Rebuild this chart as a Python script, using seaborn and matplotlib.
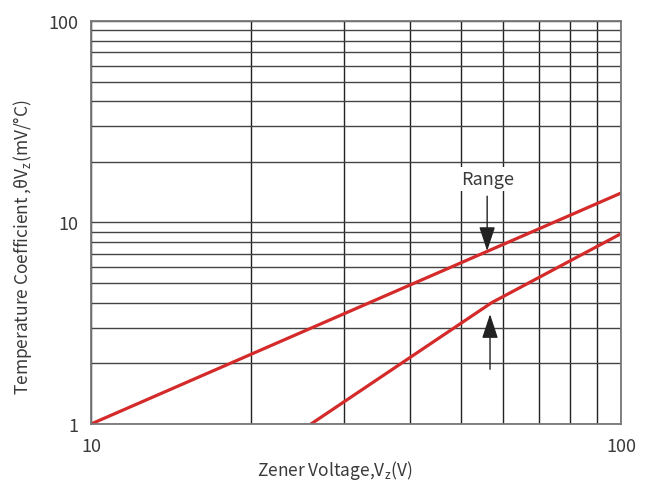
import numpy as np
import pandas as pd
import matplotlib
matplotlib.use("Agg")
import matplotlib.pyplot as plt
from matplotlib.ticker import LogLocator, NullFormatter, FixedFormatter, FixedLocator
import seaborn as sns

sns.set_style("white")
plt.rcParams['font.family'] = ['Noto Sans CJK SC', 'DejaVu Sans']

# upper / lower boundary of the range
upper_vz = [10, 100]
upper_tc = [1.0, 14.0]
lower_vz = [26, 57, 100]
lower_tc = [1.0, 4.0, 8.8]

x_ticks = [10, 100]
y_ticks = [1, 10, 100]

red = '#d42a2a'
ink = '#3a3a3a'

fig = plt.figure(figsize=(6.52, 4.81), dpi=100)
ax = fig.add_axes([0.1396, 0.1164, 0.8129, 0.8379])

sns.lineplot(x=upper_vz, y=upper_tc, color=red, lw=2.3, ax=ax)
sns.lineplot(x=lower_vz, y=lower_tc, color=red, lw=2.3, ax=ax)

ax.set_xscale('log')
ax.set_yscale('log')
ax.set_xlim(10, 100)
ax.set_ylim(1, 100)

ax.xaxis.set_major_locator(FixedLocator(x_ticks))
ax.xaxis.set_major_formatter(FixedFormatter([str(v) for v in x_ticks]))
ax.yaxis.set_major_locator(FixedLocator(y_ticks))
ax.yaxis.set_major_formatter(FixedFormatter([str(v) for v in y_ticks]))
ax.xaxis.set_minor_locator(LogLocator(base=10, subs=np.arange(2, 10)))
ax.yaxis.set_minor_locator(LogLocator(base=10, subs=np.arange(2, 10)))
ax.xaxis.set_minor_formatter(NullFormatter())
ax.yaxis.set_minor_formatter(NullFormatter())
ax.tick_params(which='both', length=0, labelsize=13, labelcolor=ink)
ax.tick_params(axis='x', pad=9)
ax.tick_params(axis='y', pad=9)

ax.xaxis.grid(True, which='both', color='#222222', lw=1.0)
ax.yaxis.grid(True, which='both', color='#444444', lw=1.0)
ax.set_axisbelow(True)
for s in ax.spines.values():
    s.set_color('#777777')
    s.set_linewidth(1.3)

ax.set_xlabel(r'Zener Voltage,V$_\mathregular{z}$(V)', fontsize=12.5, color=ink, va='center')
ax.set_ylabel(r'Temperature Coefficient ,θV$_\mathregular{z}$(mV/°C)', fontsize=12.5, color=ink, va='center')
ax.xaxis.set_label_coords(0.46, -0.112)
ax.yaxis.set_label_coords(-0.130, 0.442)

# "Range" label with arrows
ax.text(55.9, 16.4, 'Range', ha='center', va='center', fontsize=13, color=ink,
        bbox=dict(facecolor='white', edgecolor='none', pad=2))
head = dict(arrowstyle='-|>,head_length=1.0,head_width=0.33', mutation_scale=15,
            color='#222222', lw=1.0, shrinkA=0, shrinkB=0)
ax.annotate('', xy=(55.9, 7.22), xytext=(55.9, 13.5), arrowprops=head)
ax.annotate('', xy=(56.6, 3.51), xytext=(56.6, 1.87), arrowprops=head)

fig.savefig('out.png', dpi=100)
